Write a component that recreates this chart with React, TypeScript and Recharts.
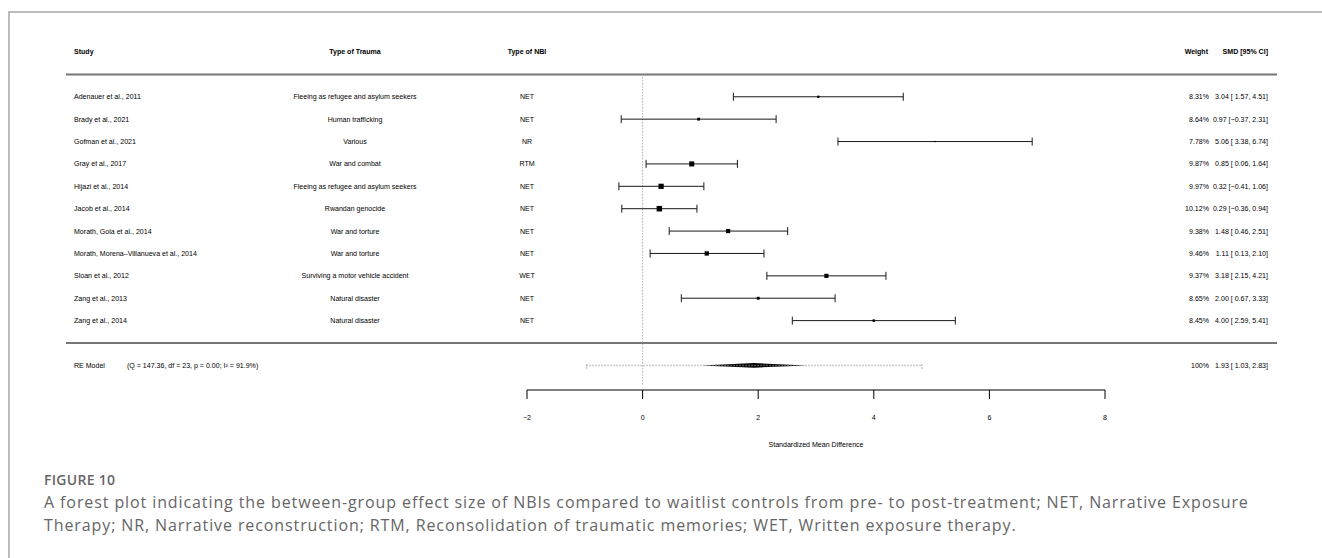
import React from "react";
import {
  ComposedChart,
  Scatter,
  ErrorBar,
  XAxis,
  YAxis,
  ReferenceLine,
  ReferenceArea,
} from "recharts";

// study rows, top to bottom
const studies = [
  "Adenauer et al., 2011",
  "Brady et al., 2021",
  "Gofman et al., 2021",
  "Gray et al., 2017",
  "Hijazi et al., 2014",
  "Jacob et al., 2014",
  "Morath, Gola et al., 2014",
  "Morath, Morena\u2013Villanueva et al., 2014",
  "Sloan et al., 2012",
  "Zang et al., 2013",
  "Zang et al., 2014",
];
const traumas = [
  "Fleeing as refugee and asylum seekers",
  "Human trafficking",
  "Various",
  "War and combat",
  "Fleeing as refugee and asylum seekers",
  "Rwandan genocide",
  "War and torture",
  "War and torture",
  "Surviving a motor vehicle accident",
  "Natural disaster",
  "Natural disaster",
];
const nbiTypes = ["NET", "NET", "NR", "RTM", "NET", "NET", "NET", "NET", "WET", "NET", "NET"];
const weights = [8.31, 8.64, 7.78, 9.87, 9.97, 10.12, 9.38, 9.46, 9.37, 8.65, 8.45];
const smd = [3.04, 0.97, 5.06, 0.85, 0.32, 0.29, 1.48, 1.11, 3.18, 2.0, 4.0];
const ciLow = [1.57, -0.37, 3.38, 0.06, -0.41, -0.36, 0.46, 0.13, 2.15, 0.67, 2.59];
const ciHigh = [4.51, 2.31, 6.74, 1.64, 1.06, 0.94, 2.51, 2.1, 4.21, 3.33, 5.41];

// random-effects summary
const reEstimate = 1.93;
const reLow = 1.03;
const reHigh = 2.83;
const piLow = -0.97;
const piHigh = 4.83;
const reStats = "(Q = 147.36, df = 23, p = 0.00; I\u00b2 = 91.9%)";

const xTicks = [-2, 0, 2, 4, 6, 8];

const HEADER_ROW = -2;
const RE_ROW = 12;

const rows = studies.map((s, i) => ({
  x: smd[i],
  y: i,
  w: weights[i],
  err: [smd[i] - ciLow[i], ciHigh[i] - smd[i]],
}));
const reRow = [{ x: reEstimate, y: RE_ROW, err: [reEstimate - piLow, piHigh - reEstimate] }];

const fmt = (v: number) => (v < 0 ? "\u2212" + Math.abs(v).toFixed(2) : "\u00a0" + v.toFixed(2));
const ciText = (e: number, lo: number, hi: number) => `${e.toFixed(2)} [${fmt(lo)}, ${hi.toFixed(2)}]`;
const tickFmt = (v: number) => (v < 0 ? "\u2212" + Math.abs(v) : String(v));

const minW = Math.min(...weights);
const maxW = Math.max(...weights);

const INK = "#000";
const FS = 7.05;

// columns
const X_STUDY = 74;
const X_TRAUMA = 355;
const X_NBI = 527;
const X_WEIGHT = 1209;
const X_SMD = 1268;

const RowTick = (props: any) => {
  const { y, payload } = props;
  const v = payload.value;
  const t = { fontSize: FS, fill: INK, dy: "0.35em" } as any;
  if (v === HEADER_ROW) {
    return (
      <g fontWeight="bold">
        <text x={X_STUDY} y={y} {...t}>Study</text>
        <text x={X_TRAUMA} y={y} textAnchor="middle" {...t}>Type of Trauma</text>
        <text x={X_NBI} y={y} textAnchor="middle" {...t}>Type of NBI</text>
        <text x={X_WEIGHT - 1} y={y} textAnchor="end" {...t}>Weight</text>
        <text x={X_SMD} y={y} textAnchor="end" {...t}>SMD [95% CI]</text>
      </g>
    );
  }
  if (v === RE_ROW) {
    return (
      <g>
        <text x={X_STUDY} y={y} {...t}>RE Model</text>
        <text x={127} y={y} {...t}>{reStats}</text>
        <text x={X_WEIGHT} y={y} textAnchor="end" {...t}>100%</text>
        <text x={X_SMD} y={y} textAnchor="end" {...t}>{ciText(reEstimate, reLow, reHigh)}</text>
      </g>
    );
  }
  const i = v as number;
  return (
    <g>
      <text x={X_STUDY} y={y} {...t}>{studies[i]}</text>
      <text x={X_TRAUMA} y={y} textAnchor="middle" {...t}>{traumas[i]}</text>
      <text x={X_NBI} y={y} textAnchor="middle" {...t}>{nbiTypes[i]}</text>
      <text x={X_WEIGHT} y={y} textAnchor="end" {...t}>{weights[i].toFixed(2)}%</text>
      <text x={X_SMD} y={y} textAnchor="end" {...t}>{ciText(smd[i], ciLow[i], ciHigh[i])}</text>
    </g>
  );
};

const Square = (props: any) => {
  const { cx, cy, payload } = props;
  const s = 1.3 + ((payload.w - minW) / (maxW - minW)) * 4.2;
  return <rect x={cx - s / 2} y={cy - s / 2} width={s} height={s} fill="#000" />;
};

const Diamond = (props: any) => {
  const { x, y, width, height } = props;
  const mid = x + (width * (reEstimate - reLow)) / (reHigh - reLow);
  const cy = y + height / 2;
  return <polygon points={`${x},${cy} ${mid},${y} ${x + width},${cy} ${mid},${y + height}`} fill="#000" />;
};

const RuleLine = (props: any) => {
  const y = props.y1;
  return <line x1={66} x2={1277} y1={y} y2={y} stroke="#777" strokeWidth={2} />;
};

export default function App() {
  return (
    <div style={{ position: "absolute", left: 0, top: 0, width: 1322, height: 558, overflow: "hidden", background: "#fff" }}>
      <div
        style={{
          position: "absolute",
          left: 8,
          top: 11,
          width: 1340,
          height: 580,
          borderTop: "2px solid #bcbcbc",
          borderLeft: "2px solid #bcbcbc",
        }}
      />
      <div style={{ position: "absolute", left: 0, top: 0 }}>
        <ComposedChart
          width={1322}
          height={452}
          margin={{ top: 52, right: 217, left: 0, bottom: 0 }}
          style={{ fontFamily: "'Liberation Sans', Arial, sans-serif" }}
        >
          <XAxis
            type="number"
            dataKey="x"
            domain={[-2, 8]}
            ticks={xTicks}
            tickFormatter={tickFmt}
            allowDataOverflow
            height={62}
            tickSize={9}
            tickMargin={16}
            stroke={INK}
            tick={{ fontSize: FS, fill: INK }}
            label={{ value: "Standardized Mean Difference", position: "insideBottom", offset: 5, fontSize: FS, fill: INK }}
          />
          <YAxis
            type="number"
            dataKey="y"
            domain={[-2, 13.1]}
            reversed
            allowDataOverflow
            width={527}
            ticks={[HEADER_ROW, ...studies.map((_, i) => i), RE_ROW]}
            interval={0}
            axisLine={false}
            tickLine={false}
            tick={<RowTick />}
          />
          <ReferenceLine y={-1} shape={<RuleLine />} />
          <ReferenceLine y={11} shape={<RuleLine />} />
          <ReferenceLine
            segment={[
              { x: 0, y: -1 },
              { x: 0, y: 12.9 },
            ]}
            stroke="#888"
            strokeDasharray="1 2"
          />
          <Scatter data={reRow} isAnimationActive={false} shape={() => <g />}>
            <ErrorBar dataKey="err" direction="x" width={3} stroke="#999" strokeDasharray="1 2" isAnimationActive={false} />
          </Scatter>
          <ReferenceArea
            x1={reLow}
            x2={reHigh}
            y1={RE_ROW - 0.105}
            y2={RE_ROW + 0.105}
            shape={<Diamond />}
          />
          <Scatter data={rows} isAnimationActive={false} shape={<Square />}>
            <ErrorBar dataKey="err" direction="x" width={4} stroke="#1a1a1a" strokeWidth={1} isAnimationActive={false} />
          </Scatter>
        </ComposedChart>
      </div>
      <div
        style={{
          position: "absolute",
          left: 44,
          top: 468,
          fontFamily: "'Open Sans', sans-serif",
          color: "#666",
          whiteSpace: "nowrap",
        }}
      >
        <div style={{ fontSize: 14, fontWeight: 600, lineHeight: "23px", letterSpacing: 0.3 }}>FIGURE 10</div>
        <div style={{ fontSize: 16, lineHeight: "23px", fontWeight: 400, letterSpacing: 0.9 }}>
          A forest plot indicating the between-group effect size of NBIs compared to waitlist controls from pre- to post-treatment; NET, Narrative Exposure
          <br />
          Therapy; NR, Narrative reconstruction; RTM, Reconsolidation of traumatic memories; WET, Written exposure therapy.
        </div>
      </div>
    </div>
  );
}
